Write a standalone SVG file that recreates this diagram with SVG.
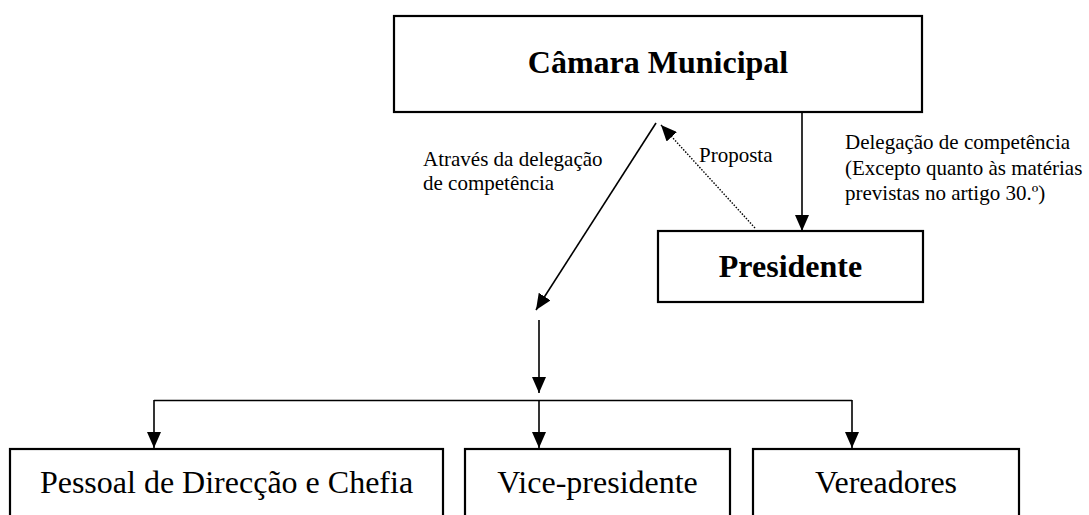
<svg xmlns="http://www.w3.org/2000/svg" width="1089" height="515" viewBox="0 0 1089 515">
<style>
.box{fill:#fff;stroke:#000;stroke-width:2.2}
.t{font-family:"Liberation Serif","Times New Roman",serif;fill:#000}
.big{font-size:32px;text-anchor:middle}
.b{font-weight:bold}
.s{font-size:21px}
.c{fill:none;stroke:#000;stroke-width:1.6}
.d{fill:none;stroke:#000;stroke-width:1.4;stroke-dasharray:1.5 1.5}
</style>
<defs>
<marker id="ah" markerUnits="userSpaceOnUse" markerWidth="16" markerHeight="14" refX="16" refY="7" orient="auto">
<path d="M0,0 L16,7 L0,14 z" fill="#000"/>
</marker>
</defs>
<rect width="1089" height="515" fill="#fff"/>
<g id="camara">
<rect class="box" x="394" y="16" width="528" height="96"/>
<text class="t big b" x="658" y="73">Câmara Municipal</text>
</g>
<g id="presidente">
<rect class="box" x="658" y="231" width="265" height="71"/>
<text class="t big b" x="790.5" y="277">Presidente</text>
</g>
<g id="pessoal">
<rect class="box" x="10" y="449" width="433" height="90"/>
<text class="t big" x="226.5" y="493">Pessoal de Direcção e Chefia</text>
</g>
<g id="vice">
<rect class="box" x="465" y="449" width="265" height="90"/>
<text class="t big" x="597.5" y="493">Vice-presidente</text>
</g>
<g id="vereadores">
<rect class="box" x="753" y="449" width="266" height="90"/>
<text class="t big" x="886" y="493">Vereadores</text>
</g>
<g id="connectors">
<line class="c" x1="802" y1="112" x2="802" y2="231" marker-end="url(#ah)"/>
<line class="d" x1="755" y1="228" x2="661" y2="125" marker-end="url(#ah)"/>
<line class="c" x1="656" y1="123" x2="536" y2="310" marker-end="url(#ah)"/>
<line class="c" x1="539" y1="320" x2="539" y2="393" marker-end="url(#ah)"/>
<line class="c" x1="154" y1="400.5" x2="852" y2="400.5"/>
<line class="c" x1="154" y1="400" x2="154" y2="448" marker-end="url(#ah)"/>
<line class="c" x1="539" y1="400" x2="539" y2="448" marker-end="url(#ah)"/>
<line class="c" x1="852" y1="400" x2="852" y2="448" marker-end="url(#ah)"/>
</g>
<g id="labels">
<text class="t s" x="423" y="166">Através da delegação</text>
<text class="t s" x="423" y="190">de competência</text>
<text class="t s" x="699" y="162">Proposta</text>
<text class="t s" x="845" y="149">Delegação de competência</text>
<text class="t s" x="845" y="175">(Excepto quanto às matérias</text>
<text class="t s" x="845" y="200">previstas no artigo 30.º)</text>
</g>
</svg>
